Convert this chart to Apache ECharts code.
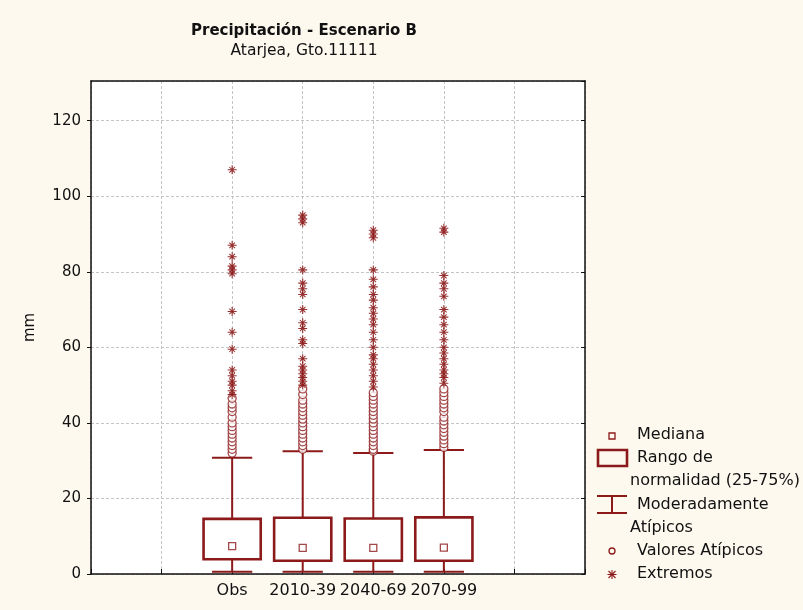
<!DOCTYPE html>
<html>
<head>
<meta charset="utf-8">
<script src="https://cdn.jsdelivr.net/npm/echarts@6/dist/echarts.min.js"></script>
<style>
html, body { margin: 0; padding: 0; background: #FDF9EF; }
#main { width: 803px; height: 610px; }
</style>
</head>
<body>
<div id="main"></div>
<script>
// categories on the x axis (blank slots keep the empty columns of the original)
var categories = ['', '', 'Obs', '2010-39', '2040-69', '2070-99', '', ''];
var boxIndex = [2, 3, 4, 5];
var whiskerLow = [0.6, 0.6, 0.6, 0.6];
var q1 = [3.9, 3.5, 3.5, 3.5];
var medians = [7.4, 6.9, 6.9, 7.0];
var q3 = [14.6, 14.9, 14.7, 15.0];
var whiskerHigh = [30.8, 32.5, 32.0, 32.8];
var outliers = [
    [32, 33, 34, 35, 36, 37, 38, 39, 40, 41.5, 43, 44, 45, 46.5],
    [33, 34, 35, 36, 37, 38, 39, 40, 41, 42, 43, 44, 45, 46, 47.5, 49],
    [32.5, 33, 34, 35, 36, 37, 38, 39, 40, 41, 42, 43, 44, 45, 46, 47, 48],
    [33.5, 34.5, 35.5, 36.5, 37.5, 38.5, 39.5, 40.5, 41.5, 43, 44, 45, 46, 47, 48, 49]
];
var extremes = [
    [47.5, 48.5, 50, 51, 52.5, 54, 59.5, 64, 69.5, 79.5, 80.5, 81.5, 84, 87, 107],
    [50, 51, 52, 53, 54, 55, 57, 61, 62, 65, 66.5, 70, 74, 75.5, 77, 80.5, 93, 94, 95],
    [49.5, 51, 52.5, 54, 55.5, 57, 58, 60, 62, 64, 66, 67.5, 69, 70.5, 72.5, 74, 76, 78, 80.5, 89, 90, 91],
    [50.5, 52, 53, 54, 55.5, 57, 58.5, 60, 62, 64, 66, 68, 70, 73.5, 75.5, 77, 79, 90.5, 91.5]
];

var RED = '#8C1A1A';
var FONT = 'DejaVu Sans';
var STAR = 'path://M0,4.4H10V5.6H0Z M4.4,0H5.6V10H4.4Z M1.5,2.3L2.3,1.5L8.5,7.7L7.7,8.5Z M7.7,1.5L8.5,2.3L2.3,8.5L1.5,7.7Z';

var boxData = boxIndex.map(function (x, i) {
    return [x, whiskerLow[i], q1[i], medians[i], q3[i], whiskerHigh[i]];
});
var medianData = boxIndex.map(function (x, i) { return [x, medians[i]]; });
var outlierData = [], extremeData = [];
boxIndex.forEach(function (x, i) {
    outliers[i].forEach(function (v) { outlierData.push([x, v]); });
    extremes[i].forEach(function (v) { extremeData.push([x, v]); });
});

var myChart = echarts.init(document.getElementById('main'));

function legendText(x, y, s) {
    return { type: 'text', x: x, y: y, style: { text: s, font: '16px "' + FONT + '"', fill: '#111', verticalAlign: 'middle' } };
}
function legendLine(x1, y1, x2, y2, w) {
    return { type: 'line', shape: { x1: x1, y1: y1, x2: x2, y2: y2 }, style: { stroke: RED, lineWidth: w || 2 } };
}

var frameAxis = { onZero: false, lineStyle: { color: '#111', width: 1.5 } };

var option = {
    backgroundColor: '#FDF9EF',
    animation: false,
    title: {
        text: 'Precipitación - Escenario B',
        subtext: 'Atarjea, Gto.11111',
        left: 304,
        top: 24,
        padding: 0,
        itemGap: 4,
        textAlign: 'center',
        textStyle: { fontFamily: FONT, fontSize: 15, fontWeight: 'bold', color: '#111' },
        subtextStyle: { fontFamily: FONT, fontSize: 15.5, color: '#111' }
    },
    grid: {
        left: 91,
        right: 218,
        top: 81,
        bottom: 36,
        show: true,
        backgroundColor: '#fff',
        borderWidth: 0
    },
    xAxis: [{
        type: 'category',
        data: categories,
        boundaryGap: false,
        axisLine: frameAxis,
        axisTick: { inside: true, length: 5, lineStyle: { color: '#111' } },
        axisLabel: { color: '#111', fontFamily: FONT, fontSize: 16, margin: 9, interval: 0 },
        splitLine: { show: true, lineStyle: { color: '#c4c4c4', type: [3, 2] } }
    }, {
        type: 'category',
        data: categories,
        boundaryGap: false,
        position: 'top',
        axisLine: frameAxis,
        axisTick: { show: false },
        axisLabel: { show: false },
        splitLine: { show: false }
    }],
    yAxis: [{
        type: 'value',
        min: 0,
        max: 130.5,
        interval: 20,
        name: 'mm',
        nameLocation: 'middle',
        nameGap: 53,
        nameTextStyle: { fontFamily: FONT, fontSize: 15, color: '#111' },
        axisLine: { show: true, onZero: false, lineStyle: { color: '#111', width: 1.5 } },
        axisTick: { show: true, length: 4, lineStyle: { color: '#111' } },
        axisLabel: { color: '#111', fontFamily: FONT, fontSize: 15, margin: 10, showMaxLabel: false },
        splitLine: { lineStyle: { color: '#c4c4c4', type: [3, 2] } }
    }, {
        type: 'value',
        min: 0,
        max: 130.5,
        interval: 20,
        position: 'right',
        axisLine: { show: true, onZero: false, lineStyle: { color: '#111', width: 1.5 } },
        axisTick: { show: true, inside: true, length: 4, lineStyle: { color: '#111' } },
        axisLabel: { show: false },
        splitLine: { show: false }
    }],
    series: [{
        name: 'Rango de normalidad (25-75%)',
        type: 'custom',
        encode: { x: 0, y: [1, 2, 3, 4, 5] },
        data: boxData,
        z: 3,
        renderItem: function (params, api) {
            var x = api.value(0);
            var low = api.coord([x, api.value(1)]);
            var lo = api.coord([x, api.value(2)]);
            var hi = api.coord([x, api.value(4)]);
            var high = api.coord([x, api.value(5)]);
            var band = api.size([1, 0])[0];
            var bw = band * 0.81, cw = band * 0.57, cx = lo[0];
            var ls = { stroke: RED, lineWidth: 2, fill: null };
            return {
                type: 'group',
                children: [
                    { type: 'line', shape: { x1: cx, y1: high[1], x2: cx, y2: hi[1] }, style: ls },
                    { type: 'line', shape: { x1: cx, y1: lo[1], x2: cx, y2: low[1] }, style: ls },
                    { type: 'line', shape: { x1: cx - cw / 2, y1: high[1], x2: cx + cw / 2, y2: high[1] }, style: ls },
                    { type: 'line', shape: { x1: cx - cw / 2, y1: low[1], x2: cx + cw / 2, y2: low[1] }, style: ls },
                    { type: 'rect', shape: { x: cx - bw / 2, y: hi[1], width: bw, height: lo[1] - hi[1] },
                      style: { fill: '#fff', stroke: RED, lineWidth: 2.6 } }
                ]
            };
        }
    }, {
        name: 'Mediana',
        type: 'scatter',
        data: medianData,
        symbol: 'rect',
        symbolSize: 7,
        z: 4,
        itemStyle: { color: '#fff', borderColor: RED, borderWidth: 1.3 }
    }, {
        name: 'Valores Atípicos',
        type: 'scatter',
        data: outlierData,
        symbol: 'circle',
        symbolSize: 8,
        z: 4,
        itemStyle: { color: '#fff', borderColor: RED, borderWidth: 1.3 }
    }, {
        name: 'Extremos',
        type: 'scatter',
        data: extremeData,
        symbol: STAR,
        symbolSize: 9,
        z: 4,
        itemStyle: { color: RED, opacity: 0.9 }
    }],
    graphic: [{
        type: 'group',
        left: 0,
        top: 0,
        children: [
            // invisible anchor so the group starts at the page origin
            { type: 'rect', shape: { x: 0, y: 0, width: 1, height: 1 }, style: { fill: 'transparent' } },
            { type: 'rect', shape: { x: 609, y: 433, width: 6, height: 6 }, style: { fill: null, stroke: RED, lineWidth: 1.3 } },
            legendText(637, 435, 'Mediana'),
            { type: 'rect', shape: { x: 598, y: 450, width: 29, height: 16 }, style: { fill: null, stroke: RED, lineWidth: 2.6 } },
            legendText(637, 458, 'Rango de'),
            legendText(630, 481, 'normalidad (25-75%)'),
            legendLine(597, 496, 627, 496),
            legendLine(612, 496, 612, 513),
            legendLine(597, 513, 627, 513),
            legendText(637, 505, 'Moderadamente'),
            legendText(630, 528, 'Atípicos'),
            { type: 'circle', shape: { cx: 612, cy: 551, r: 3 }, style: { fill: null, stroke: RED, lineWidth: 1.3 } },
            legendText(637, 551, 'Valores Atípicos'),
            legendLine(607.5, 574.5, 616.5, 574.5, 1.1),
            legendLine(612, 570, 612, 579, 1.1),
            legendLine(608.5, 571, 615.5, 578, 1.1),
            legendLine(615.5, 571, 608.5, 578, 1.1),
            legendText(637, 574, 'Extremos')
        ]
    }]
};
myChart.setOption(option);
</script>
</body>
</html>
